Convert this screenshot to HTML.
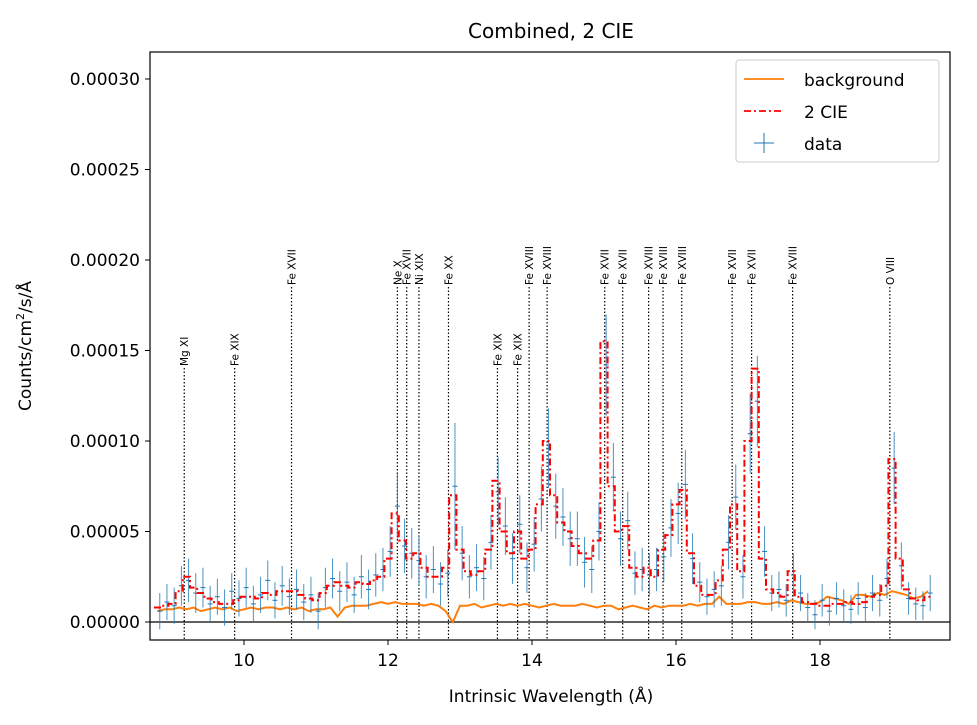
<!DOCTYPE html>
<html><head><meta charset="utf-8"><style>
body{margin:0;background:#fff;font-family:"Liberation Sans","DejaVu Sans",sans-serif}
svg text{font-family:"DejaVu Sans","Liberation Sans",sans-serif}
</style></head><body>
<svg id="chart" width="977" height="720" viewBox="0 0 977 720" xmlns="http://www.w3.org/2000/svg">
<rect width="977" height="720" fill="#fff"/>
<text x="551" y="38" font-size="20" text-anchor="middle">Combined, 2 CIE</text>
<text x="551" y="702" font-size="17" text-anchor="middle">Intrinsic Wavelength (Å)</text>
<text transform="translate(31,346) rotate(-90)" font-size="17" text-anchor="middle">Counts/cm<tspan font-size="11" dy="-7">2</tspan><tspan dy="7">/s/Å</tspan></text>
<g id="marks"></g>
<rect x="150" y="52" width="800" height="588" fill="none" stroke="#000" stroke-width="1.2"/>
<g>
<rect x="736" y="60" width="203" height="102" rx="3" fill="#fff" stroke="#ccc"/>
<line x1="744" y1="79" x2="784" y2="79" stroke="#ff7f0e" stroke-width="1.8"/>
<text x="804" y="86" font-size="17">background</text>
<line x1="744" y1="111" x2="784" y2="111" stroke="#f00" stroke-width="1.8" stroke-dasharray="7,3,2,3"/>
<text x="804" y="118" font-size="17">2 CIE</text>
<line x1="764" y1="133" x2="764" y2="153" stroke="#1f77b4" stroke-width="1"/>
<line x1="754" y1="143" x2="774" y2="143" stroke="#1f77b4" stroke-width="1"/>
<text x="804" y="150" font-size="17">data</text>
</g>
</svg>
<script>
const xTicks=[10,12,14,16,18];
const yTicks=[0,5,10,15,20,25,30];
const yTickLabels=["0.00000","0.00005","0.00010","0.00015","0.00020","0.00025","0.00030"];
const binStart=8.8, binWidth=0.1;
const modelVals=[0.8,0.9,1.0,1.7,2.5,1.9,1.6,1.3,1.1,1.0,1.0,1.2,1.4,1.4,1.3,1.6,1.5,1.7,1.7,1.7,1.5,1.3,1.2,1.6,2.0,2.2,2.0,1.9,2.2,2.1,2.3,2.5,3.5,6.0,4.5,3.5,3.8,3.0,2.5,2.5,3.0,7.0,4.0,2.8,2.6,2.8,4.0,7.8,5.0,3.8,5.0,3.5,4.0,6.5,10.0,7.0,5.5,5.0,4.2,3.8,3.5,4.5,15.5,7.5,5.0,5.3,3.0,2.5,3.0,2.5,4.0,4.8,6.5,7.3,3.8,2.0,1.5,1.5,2.3,4.0,6.5,2.8,10.0,14.0,3.5,1.8,1.6,1.4,2.8,1.4,1.1,1.0,0.9,0.9,1.0,1.0,1.1,1.0,1.1,1.4,1.5,2.0,9.0,3.5,1.8,1.3,1.2,1.4];
const bgVals=[0.6,0.7,0.7,0.8,0.7,0.8,0.6,0.7,0.8,0.7,0.8,0.6,0.7,0.8,0.7,0.8,0.8,0.7,0.8,0.7,0.8,0.6,0.7,0.7,0.8,0.3,0.8,0.9,0.9,0.9,1.0,1.1,1.0,1.1,1.0,1.0,1.0,0.9,1.0,0.9,0.6,0.0,0.9,0.9,1.0,0.8,0.9,1.0,0.9,1.0,0.9,1.0,0.9,0.8,0.9,1.0,0.9,0.9,0.9,1.0,0.9,0.8,0.9,0.9,0.7,0.8,0.9,0.8,0.7,0.9,0.8,0.9,0.9,0.9,1.0,0.9,1.0,1.0,1.4,1.0,1.0,1.0,1.1,1.1,1.0,1.0,1.1,1.0,1.2,1.1,1.0,1.0,1.1,1.4,1.3,1.2,1.0,1.5,1.5,1.4,1.6,1.5,1.7,1.6,1.5,1.3,1.4,1.7];
const dataVals=[0.6,1.1,0.9,2.0,2.3,1.6,1.9,1.0,1.4,0.8,1.7,1.3,1.9,1.0,1.5,2.3,1.2,2.0,1.4,1.8,1.1,1.5,0.6,1.9,2.4,1.7,2.2,1.5,2.5,1.8,2.6,2.9,3.9,6.4,4.2,3.8,3.4,2.5,2.9,2.1,2.7,7.5,3.8,2.5,3.0,2.4,4.4,7.2,5.3,3.5,5.4,3.0,4.3,6.8,9.6,6.4,5.8,4.6,4.6,3.3,2.9,5.0,14.2,8.0,4.6,5.6,2.7,2.9,2.6,2.9,3.6,5.2,6.0,7.6,3.5,2.2,1.4,1.8,2.0,4.4,6.9,2.5,10.4,12.2,3.9,1.6,1.8,1.2,2.6,1.6,0.8,0.4,1.2,0.6,1.3,0.9,0.7,1.3,0.8,1.6,1.2,2.4,8.5,3.1,1.3,1.0,0.9,1.6];
const dataErr=[1.0,1.0,1.0,1.1,1.2,1.1,1.1,1.0,1.0,1.0,1.0,1.0,1.1,1.0,1.0,1.1,1.0,1.1,1.0,1.1,1.0,1.0,1.0,1.1,1.1,1.1,1.1,1.0,1.2,1.1,1.2,1.2,1.4,1.8,1.5,1.4,1.4,1.2,1.3,1.2,1.3,3.5,1.5,1.2,1.3,1.2,1.5,1.9,1.6,1.4,1.6,1.4,1.5,1.8,2.2,1.8,1.6,1.5,1.5,1.4,1.3,1.6,2.8,1.9,1.5,1.6,1.2,1.2,1.2,1.2,1.4,1.6,1.7,1.9,1.4,1.1,1.0,1.0,1.1,1.5,1.8,1.2,2.2,2.5,1.4,1.0,1.0,0.9,1.2,1.0,0.8,0.8,0.9,0.8,0.9,0.9,0.8,0.9,0.8,1.0,0.9,1.1,2.0,1.3,0.9,0.9,0.8,1.0];
const lineWaves=[9.17,9.87,10.66,12.13,12.26,12.43,12.84,13.52,13.80,13.96,14.21,15.01,15.26,15.62,15.82,16.08,16.78,17.05,17.62,18.97];
const lineNames=["Mg XI","Fe XIX","Fe XVII","Ne X","Fe XVII","Ni XIX","Fe XX","Fe XIX","Fe XIX","Fe XVIII","Fe XVIII","Fe XVII","Fe XVII","Fe XVIII","Fe XVIII","Fe XVIII","Fe XVII","Fe XVII","Fe XVIII","O VIII"];
const lineLow=[true,true,false,false,false,false,false,true,true,false,false,false,false,false,false,false,false,false,false,false];

const NS="http://www.w3.org/2000/svg";
const X=w=>244+(w-10)*72;
const Y=v=>622-v*18.1;
const g=document.getElementById('marks');
function mk(t,a){const e=document.createElementNS(NS,t);for(const k in a)e.setAttribute(k,a[k]);g.appendChild(e);return e;}

xTicks.forEach(t=>{
 const l=mk('line',{x1:X(t),x2:X(t),y1:640,y2:645,stroke:'#000'});
 
 
 const tx=mk('text',{x:X(t),y:666,'font-size':17,'text-anchor':'middle'});tx.textContent=t;
 
 
});
yTicks.forEach((t,i)=>{
 const l=mk('line',{x1:145,x2:150,y1:Y(t),y2:Y(t),stroke:'#000'});
 
 
 const tx=mk('text',{x:140,y:Y(t)+6,'font-size':17,'text-anchor':'end'});tx.textContent=yTickLabels[i];
 
 
});
const zl=mk('line',{x1:150,x2:950,y1:Y(0),y2:Y(0),stroke:'#000','stroke-width':1.2});



lineWaves.forEach((w,i)=>{
 const top=lineLow[i]?368:287;
 const l=mk('line',{x1:X(w),x2:X(w),y1:top,y2:640,stroke:'#000','stroke-width':1.2,'stroke-dasharray':'1.5,2'});
 
 
 const tx=mk('text',{transform:`translate(${X(w)+4},${top-2}) rotate(-90)`,'font-size':10.5});
 tx.textContent=lineNames[i];
 
 
});

let bp=bgVals.map((v,i)=>`${X(binStart+i*binWidth).toFixed(1)},${Y(v).toFixed(1)}`).join(' ');
const bgl=mk('polyline',{points:bp,fill:'none',stroke:'#ff7f0e','stroke-width':2});



dataVals.forEach((v,i)=>{
 const w=binStart+i*binWidth+0.03;
 const e=dataErr[i];
 const vb=mk('line',{x1:X(w),x2:X(w),y1:Y(v-e),y2:Y(v+e),stroke:'#1f77b4','stroke-width':1,opacity:0.8});
 
 
 const hb=mk('line',{x1:X(w)-2.5,x2:X(w)+2.5,y1:Y(v),y2:Y(v),stroke:'#1f77b4','stroke-width':1});
 
 
});

let d='';
modelVals.forEach((v,i)=>{
 const c=binStart+i*binWidth;
 const x0=X(c-binWidth/2),x1=X(c+binWidth/2);
 d+=(i?'L':'M')+x0.toFixed(1)+','+Y(v).toFixed(1)+'L'+x1.toFixed(1)+','+Y(v).toFixed(1);
});
const mp=mk('path',{d:d,fill:'none',stroke:'#f00','stroke-width':2,'stroke-dasharray':'7,3,2,3'});


</script>
</body></html>
